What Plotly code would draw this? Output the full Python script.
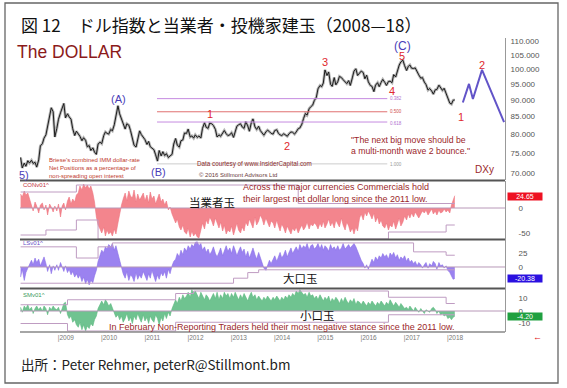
import plotly.graph_objects as go
import pandas as pd
import numpy as np

W, H = 567, 388

# ---------------- DATA ----------------
dxy_2008 = [73.8, 71.2, 72.4, 71.6, 73.0, 72.4, 73.1, 72.3, 72.6, 71.4, 73.2, 76.8, 77.4, 78.9, 79.8, 82.5, 84.6, 87.6, 86.4, 79.2]
dxy_2009 = [81.6, 84.2, 86.1, 87.4, 88.9, 84.6, 85.8, 84.9, 84.2, 81.5, 79.6, 80.8, 80.1, 79.4, 78.2, 79.0, 78.3, 76.6, 76.9, 75.6, 76.3, 75.2, 74.6, 77.3]
dxy_2010 = [77.8, 77.4, 79.6, 80.6, 80.2, 80.0, 81.3, 80.9, 82.6, 85.7, 88.2, 85.8, 84.4, 82.8, 81.4, 82.9, 82.5, 81.0, 78.3, 77.0, 76.5, 79.0, 80.9, 79.9]
dxy_2011 = [79.2, 78.5, 77.2, 78.0, 76.6, 76.2, 75.8, 74.5, 72.9, 75.6, 74.2, 75.3, 74.3, 74.8, 73.8, 74.2, 74.6, 77.3, 78.8, 77.0, 76.5, 78.2, 78.4, 80.3]
dxy_2012 = [80.2, 81.4, 79.2, 79.5, 78.9, 79.8, 79.1, 79.5, 78.9, 81.6, 83.2, 81.9, 81.6, 83.1, 82.9, 82.4, 81.3, 79.2, 79.8, 79.4, 80.2, 81.0, 80.1, 79.6]
dxy_2013 = [79.8, 80.4, 79.1, 80.9, 82.2, 82.6, 82.9, 82.0, 81.6, 83.5, 82.3, 80.8, 83.2, 84.3, 82.0, 81.3, 82.2, 81.0, 80.2, 79.7, 80.6, 81.1, 80.7, 80.2]
dxy_2014 = [80.0, 81.0, 81.2, 80.2, 79.8, 79.6, 80.1, 79.7, 79.4, 80.1, 80.6, 80.5, 80.0, 80.6, 81.5, 81.7, 82.8, 84.4, 85.9, 85.4, 87.3, 87.9, 88.4, 89.8]
dxy_2015 = [90.8, 93.5, 94.6, 94.2, 95.4, 99.8, 97.9, 99.1, 95.0, 94.3, 97.2, 94.8, 95.8, 97.6, 97.2, 96.5, 95.6, 95.2, 96.2, 94.6, 97.1, 99.4, 100.2, 97.9]
dxy_2016 = [98.7, 99.4, 98.9, 96.8, 98.0, 95.8, 94.6, 94.3, 92.6, 94.7, 95.5, 94.2, 95.6, 96.6, 95.6, 94.6, 95.9, 96.0, 95.5, 98.2, 97.4, 99.8, 101.5, 102.6]
dxy_2017 = [103.2, 101.3, 99.6, 101.0, 101.5, 100.4, 100.3, 100.5, 99.0, 98.1, 97.0, 97.2, 95.7, 94.9, 93.1, 93.6, 92.8, 91.8, 93.2, 93.3, 94.7, 93.8, 93.0, 93.7]
dxy_2018 = [92.1, 90.4, 89.0, 88.7, 89.9, 90.0]

con_2008 = [28, 22, 34, 26, 30, 18, 8, -6, 12, 4, -10, 6, 10, -4, 6, -14, 8, 2, -8, 4]
con_2009 = [-6, 8, -18, 4, 10, -4, 14, 22, 8, 18, 12, 26, 30, 44, 36, 48, 40, 46, 38, 44, 30, 12, -18, -34]
con_2010 = [-42, -50, -38, -56, -44, -52, -48, -56, -42, -52, -30, -12, 6, 18, 30, 14, 34, 24, 20, 36, 12, 28, 16, 22]
con_2011 = [30, 14, 26, 10, 32, 18, 24, 8, 20, 28, 12, 18, 6, 14, -4, 2, -12, -20, -30, -22, -38, -44, -34, -48]
con_2012 = [-52, -40, -58, -46, -56, -50, -58, -60, -44, -30, -42, -24, -32, -18, -26, -36, -20, -30, -40, -28, -46, -34, -52, -44]
con_2013 = [-48, -36, -54, -42, -30, -44, -50, -38, -46, -28, -36, -22, -30, -40, -18, -34, -26, -14, -22, -34, -20, -30, -38, -26]
con_2014 = [-30, -40, -24, -36, -46, -32, -40, -50, -36, -44, -52, -40, -46, -38, -50, -42, -34, -44, -38, -28, -42, -32, -36, -30]
con_2015 = [-34, -42, -30, -38, -26, -40, -32, -22, -36, -28, -40, -24, -30, -38, -20, -34, -44, -28, -36, -48, -40, -52, -38, -46]
con_2016 = [-20, -12, -24, -8, -16, -6, -14, -22, -10, -28, -18, -32, -24, -36, -40, -30, -44, -34, -38, -26, -42, -32, -20, -36]
con_2017 = [-28, -16, -24, -12, -20, -10, -18, -8, -14, -20, -12, -6, -10, -4, -14, -8, -2, -12, -6, -14, -4, -10, -8, -2]
con_2018 = [-8, -4, -10, 6, 16, 24.65]

ls_2008 = [-18, -4, -24, -10, -2, 6, 12, 4, 16, 8, 14, 2, 10, 18, 6, -8, 4, -12, 2, -6]
ls_2009 = [4, -6, 8, -2, -8, 2, -10, -4, -14, -8, -18, -12, -20, -14, -26, -18, -30, -22, -32, -24, -28, -16, -6, 10]
ls_2010 = [22, 30, 26, 36, 32, 40, 36, 42, 30, 38, 24, 12, -4, -12, -20, -8, -24, -14, -18, -26, -10, -22, -14, -20]
ls_2011 = [-8, -16, -24, -12, -20, -6, -18, -26, -14, -22, -10, -16, -8, -20, -4, -12, 2, 10, 14, 24, 18, 30, 22, 34]
ls_2012 = [28, 38, 32, 40, 36, 44, 45, 38, 42, 30, 36, 26, 32, 22, 28, 36, 24, 18, 26, 34, 20, 30, 38, 28]
ls_2013 = [34, 24, 38, 30, 20, 28, 36, 26, 32, 18, 28, 16, 24, 34, 22, 14, 26, 18, 8, -2, -6, 4, 12, 6]
ls_2014 = [14, 20, 10, 18, 26, 16, 22, 30, 18, 26, 34, 24, 30, 36, 28, 40, 32, 38, 34, 42, 30, 38, 40, 32]
ls_2015 = [36, 42, 32, 40, 30, 38, 34, 28, 40, 32, 36, 30, 38, 30, 34, 42, 32, 36, 40, 34, 38, 42, 36, 28]
ls_2016 = [20, 12, 6, -2, 4, -4, 6, 14, 8, 18, 12, 20, 16, 24, 18, 22, 14, 25, 20, 26, 16, 22, 12, 18]
ls_2017 = [14, 20, 10, 16, 8, 12, 6, 10, 2, 8, 4, -2, 4, 8, -2, 6, 2, 10, 6, -4, 8, 2, 4, -2]
ls_2018 = [2, -6, -10, -16, -22, -20.38]

sm_2008 = [3, -1, 4, 2, 5, 1, 3, -2, 2, 4, 1, 3, 0, 4, 2, -3, 3, 1, 4, 2]
sm_2009 = [1, 3, -2, 2, 6, 7, -3, -6, -4, -9, -7, -11, -13, -9, -15, -11, -16, -12, -14, -10, -12, -7, -4, 2]
sm_2010 = [6, 8, 5, 9, 7, 4, 6, 2, -2, -5, -3, -7, -4, -9, -6, -2, -8, -5, -10, -4, -7, -2, -6, -9]
sm_2011 = [-3, -8, -5, -10, -4, -7, -9, -3, -6, -11, -5, -8, -2, -6, -1, -4, 2, 5, 9, 6, 11, 8, 13, 10]
sm_2012 = [12, 15, 11, 17, 14, 16, 13, 10, 15, 12, 9, 13, 11, 8, 12, 14, 10, 15, 9, 13, 10, 15, 12, 14]
sm_2013 = [10, 14, 11, 15, 12, 9, 13, 10, 14, 11, 8, 12, 15, 11, 13, 9, 12, 10, 8, 11, 9, 12, 10, 8]
sm_2014 = [11, 9, 12, 10, 8, 11, 9, 12, 10, 13, 11, 14, 12, 16, 14, 17, 15, 13, 14, 11, 15, 12, 13, 10]
sm_2015 = [12, 9, 13, 10, 8, 11, 9, 12, 7, 10, 8, 11, 9, 6, 10, 7, 11, 8, 6, 9, 7, 10, 5, 8]
sm_2016 = [7, 5, 8, 6, 4, 7, 5, 8, 6, 4, 7, 5, 8, 6, 4, 7, 5, 9, 6, 4, 7, 5, 3, 6]
sm_2017 = [4, 2, 3, 1, 4, 2, 0, 3, 1, -1, 2, 0, -2, 1, 0, -1, 2, 3, 1, -2, 0, -3, -2, -4]
sm_2018 = [-3, -6, -5, -7, -5, -4.2]

# Wave-2 projection
proj_dates = ["2018-05-22", "2018-07-13", "2018-08-15", "2018-10-31", "2019-05-05"]
proj_vals = [89.2, 95.1, 90.3, 99.8, 83.4]

# retracement levels
fib_levels = [90.4, 86.4, 83.4, 72.2]
fib_labels = ["0.382", "0.500", "0.618", "1.000"]
fib_start, fib_end = "2011-04-27", "2016-08-22"

# envelope (channel) lines of the sub panels
con_up_d = ["2008-03-01", "2009-06-15", "2014-08-01", "2018-03-15"]
con_up_v = [32, 46, 9, 9]
con_lo_d = ["2008-03-01", "2008-10-01", "2009-06-15", "2009-12-15", "2016-09-01", "2018-01-01", "2018-03-15"]
con_lo_v = [-54, -44, -24, -62, -48, -34, -34]
ls_up_d = ["2008-03-01", "2009-06-15", "2009-12-15", "2010-04-15", "2017-04-01", "2018-01-01", "2018-03-15"]
ls_up_v = [36, 16, 36, 43, 27, 21, 21]
ls_lo_d = ["2008-03-01", "2013-02-01", "2013-06-01", "2013-09-01", "2018-03-15"]
ls_lo_v = [-29, -20, -10, -5, -5]
sm_up_d = ["2008-03-01", "2009-04-01", "2011-10-01", "2012-03-01", "2016-09-01", "2018-01-01", "2018-03-15"]
sm_up_v = [5, 9, 14, 16, 11, 6, 6]
sm_lo_d = ["2008-03-01", "2009-04-01", "2011-10-01", "2016-09-01", "2018-03-15"]
sm_lo_v = [-10, -16, -9, -3, -3]

main_ticks = [70, 75, 80, 85, 90, 95, 100, 105, 110]
years = list(range(2009, 2019))

dxy = dxy_2008 + dxy_2009 + dxy_2010 + dxy_2011 + dxy_2012 + dxy_2013 + dxy_2014 + dxy_2015 + dxy_2016 + dxy_2017 + dxy_2018
con = con_2008 + con_2009 + con_2010 + con_2011 + con_2012 + con_2013 + con_2014 + con_2015 + con_2016 + con_2017 + con_2018
lsv = ls_2008 + ls_2009 + ls_2010 + ls_2011 + ls_2012 + ls_2013 + ls_2014 + ls_2015 + ls_2016 + ls_2017 + ls_2018
smv = sm_2008 + sm_2009 + sm_2010 + sm_2011 + sm_2012 + sm_2013 + sm_2014 + sm_2015 + sm_2016 + sm_2017 + sm_2018
dates = pd.date_range("2008-03-01", periods=len(dxy), freq="SMS")
n = len(dates)
con, lsv, smv = con[:n], lsv[:n], smv[:n]

# ---------------- FIGURE ----------------
FONT = "Liberation Sans, Arial, sans-serif"
CJK = "Noto Sans CJK JP, sans-serif"
DARKRED = "#9b1f2a"
RED = "#e0282f"
BLUE = "#4a3db8"
ENV = "#bf9cc2"

def px(x):
    return x / W

def py(y):
    return 1 - y / H

xdom = [px(20), px(505)]
xr = ["2008-02-25", "2019-05-13"]

fig = go.Figure()

# main price
fig.add_trace(go.Scatter(x=dates, y=dxy, mode="lines", xaxis="x", yaxis="y",
                         line=dict(color="rgba(110,110,110,0.5)", width=2.8), hoverinfo="skip"))
fig.add_trace(go.Scatter(x=dates, y=dxy, mode="lines", xaxis="x", yaxis="y",
                         line=dict(color="#1c1c1c", width=1.0)))
fig.add_trace(go.Scatter(x=proj_dates, y=proj_vals, mode="lines", xaxis="x", yaxis="y",
                         line=dict(color="#6254c8", width=2)))
fib_colors = ["#c58be0", "#e07070", "#c58be0", "#cccccc"]
for lv, c in zip(fib_levels, fib_colors):
    fig.add_trace(go.Scatter(x=[fib_start, fib_end], y=[lv, lv], mode="lines", xaxis="x", yaxis="y",
                             line=dict(color=c, width=1)))

# sub panels
panels = [
    (con, "#f3858d", "#ee7480", "x2", "y2", con_up_d, con_up_v, con_lo_d, con_lo_v),
    (lsv, "#9b82f0", "#8a6fe8", "x3", "y3", ls_up_d, ls_up_v, ls_lo_d, ls_lo_v),
    (smv, "#6fc390", "#5cb880", "x4", "y4", sm_up_d, sm_up_v, sm_lo_d, sm_lo_v),
]
for vals, fc, lc, xa, ya, ud, uv, ld, lv_ in panels:
    fig.add_trace(go.Scatter(x=dates, y=vals, mode="lines", fill="tozeroy", fillcolor=fc,
                             line=dict(color=lc, width=0.6), xaxis=xa, yaxis=ya))
    fig.add_trace(go.Scatter(x=ud, y=uv, mode="lines", line=dict(color=ENV, width=1, shape="hv"),
                             xaxis=xa, yaxis=ya))
    fig.add_trace(go.Scatter(x=ld, y=lv_, mode="lines", line=dict(color=ENV, width=1, shape="hv"),
                             xaxis=xa, yaxis=ya))

shapes = []
# zero lines
for xa, ya in [("x2", "y2"), ("x3", "y3"), ("x4", "y4")]:
    shapes.append(dict(type="line", xref=xa + " domain", yref=ya, x0=0, x1=1, y0=0, y1=0,
                       line=dict(color="#b898b8", width=1), layer="above"))
# panel separators
for yy, w, c in [(180.5, 2, "#555555"), (239.5, 2, "#555555"), (288.5, 2, "#555555"), (332, 1.3, "#888888")]:
    shapes.append(dict(type="line", xref="paper", yref="paper", x0=px(20), x1=px(505),
                       y0=py(yy), y1=py(yy), line=dict(color=c, width=w)))
# outer frame
shapes.append(dict(type="rect", xref="paper", yref="paper", x0=px(5), x1=px(558), y0=py(383), y1=py(3),
                   line=dict(color="#666666", width=1.3)))

ax_common = dict(showgrid=False, zeroline=False, ticks="", fixedrange=True)
yfont = dict(family=FONT, size=8, color="#555555")

layout = dict(
    width=W, height=H, margin=dict(l=0, r=0, t=0, b=0),
    paper_bgcolor="white", plot_bgcolor="white", showlegend=False,
    xaxis=dict(domain=xdom, range=xr, type="date", visible=False, anchor="y", **ax_common),
    xaxis2=dict(domain=xdom, range=xr, type="date", visible=False, anchor="y2", matches="x", **ax_common),
    xaxis3=dict(domain=xdom, range=xr, type="date", visible=False, anchor="y3", matches="x", **ax_common),
    xaxis4=dict(domain=xdom, range=xr, type="date", anchor="y4", matches="x", showline=False,
                tickvals=[f"{y}-01-01" for y in years], ticktext=[f"|{y}" for y in years],
                tickfont=dict(family=FONT, size=6.5, color="#777777"), ticklabelshift=9,
                ticklabelstandoff=0, **ax_common),
    yaxis=dict(domain=[py(180), py(38)], type="log", range=[np.log10(68.3), np.log10(111.4)],
               side="right", anchor="x", showline=True, linecolor="#999999", linewidth=1,
               tickvals=main_ticks, ticktext=[f"{t}.000" for t in main_ticks], tickfont=yfont,
               ticklabelstandoff=3, **ax_common),
    yaxis2=dict(domain=[py(240), py(181)], range=[-64, 54], side="right", anchor="x2",
                showline=True, linecolor="#999999", tickvals=[0, -50], ticktext=["0", "-50"],
                tickfont=yfont, ticklabelstandoff=11, **ax_common),
    yaxis3=dict(domain=[py(289), py(240)], range=[-39.3, 48.2], side="right", anchor="x3",
                showline=True, linecolor="#999999", tickvals=[25, 0], ticktext=["25", "0"],
                tickfont=yfont, ticklabelstandoff=11, **ax_common),
    yaxis4=dict(domain=[py(332), py(289)], range=[-16.8, 17.6], side="right", anchor="x4",
                showline=True, linecolor="#999999", tickvals=[10, 0, -10], ticktext=["10", "0", "-10"],
                tickfont=yfont, ticklabelstandoff=11, **ax_common),
    shapes=shapes,
)

anns = []

def ann(text, x, y, size, color, xanchor="center", family=FONT, align="center", **kw):
    d = dict(text=text, x=px(x), y=py(y), xref="paper", yref="paper", showarrow=False,
             xanchor=xanchor, yanchor="middle", align=align,
             font=dict(family=family, size=size, color=color))
    d.update(kw)
    anns.append(d)

ann("図 12　ドル指数と当業者・投機家建玉（2008—18）", 19, 24, 17, "#111111", "left", CJK)
ann("出所：Peter Rehmer, peterR@Stillmont.bm", 19, 364, 13.5, "#222222", "left", CJK)
ann("The DOLLAR", 15, 52, 17.5, "#8b1a1a", "left")

# wave labels
ann("(A)", 118, 99, 11, BLUE)
ann("(B)", 158, 172, 11, BLUE)
ann("5)", 17, 175, 11, BLUE, "left")
ann("(C)", 402, 46, 12, BLUE)
ann("5", 402, 56, 11, RED)
for t, x, y in [("1", 210, 114), ("2", 287, 146), ("3", 325, 62), ("4", 392, 91), ("1", 461, 117), ("2", 482, 65)]:
    ann(t, x, y, 11, RED)

ann("\"The next big move should be<br>a multi-month wave 2 bounce.\"", 349, 145, 8.7, DARKRED, "left", align="left")
ann("DXy", 484, 169, 10, DARKRED)
ann("Briese's combined IMM dollar-rate<br>Net Positions as a percentage of<br>non-spreading open interest",
    47, 168, 6, "#c0392b", "left", align="left")
ann("Data courtesy of www.InsiderCapital.com", 195, 164, 6.3, "#8b2a2a", "left")
ann("© 2016 Stillmont Advisors Ltd", 197, 175, 6, "#6b3a3a", "left")
for lbl, yy, c in zip(fib_labels, [98, 111, 123, 164], ["#b070d0", "#d05050", "#b070d0", "#999999"]):
    ann(lbl, 388, yy, 4.5, c, "left")

# sub panel texts
ann("CONv01^", 21, 185, 6, "#c0303a", "left")
ann("当業者玉", 212, 202, 11.5, "#111111", family=CJK)
ann("Across the major currencies Commercials hold<br>their largest net dollar long since the 2011 low.",
    241, 193, 9, DARKRED, "left", align="left")
ann("LSv01^", 21, 242.5, 6, "#6a50c8", "left")
ann("大口玉", 300, 278, 11.5, "#111111", family=CJK)
ann("SMv01^", 21, 294.5, 6, "#3a9a5a", "left")
ann("小口玉", 317, 315, 11.5, "#111111", family=CJK)
ann("In February Non-Reporting Traders held their most negative stance since the 2011 low.",
    107, 326.5, 9, DARKRED, "left")

# last-value boxes
for txt, yy, bg in [("24.65", 196, "#ee1122"), ("-20.38", 278.4, "#2a10e0"), ("-4.20", 316, "#20a040")]:
    ann(txt, 507, yy, 7, "white", "left", bgcolor=bg, width=33, height=6, borderpad=0.5)
ann("←", 537, 337, 9, "#e01010")

layout["annotations"] = anns
fig.update_layout(**layout)
fig.write_html("out.html", config={"displayModeBar": False},
               post_script="document.body.style.margin='0';document.body.style.overflow='hidden';")
